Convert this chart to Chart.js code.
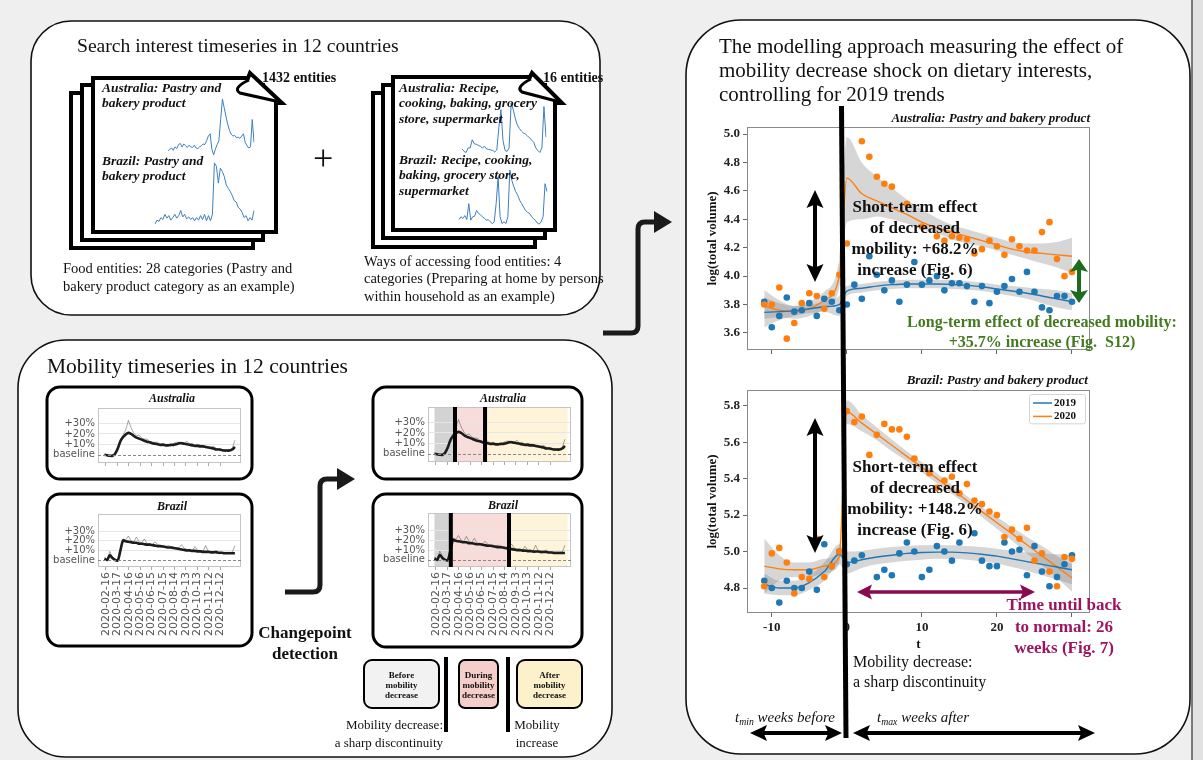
<!DOCTYPE html>
<html>
<head>
<meta charset="utf-8">
<title>Mobility decrease and dietary interests</title>
<script src="https://cdn.jsdelivr.net/npm/chart.js@4.4.1/dist/chart.umd.min.js"></script>
<style>
  html, body { margin: 0; padding: 0; }
  body { width: 1203px; height: 760px; position: relative; overflow: hidden; background: #efefef;
         font-family: "Liberation Serif", "Times New Roman", serif; color: #111; }
  svg { position: absolute; left: 0; top: 0; }
  canvas { position: absolute; }
  .txt { position: absolute; white-space: nowrap; }
  .b { font-weight: bold; }
  .i { font-style: italic; }
  .c { text-align: center; transform: translateX(-50%); }
  .r { text-align: right; transform: translateX(-100%); }
  sub { font-size: 65%; vertical-align: -3px; }
</style>
</head>
<body>
<svg id="back" width="1203" height="760">
  <rect x="1192" y="0" width="11" height="760" fill="#e2e2e2"/>
  <line x1="1192" y1="0" x2="1192" y2="760" stroke="#555" stroke-width="1.5"/>
  <g fill="#fff" stroke="#111" stroke-width="1.6">
    <rect x="31" y="21" width="569" height="294" rx="40"/>
    <rect x="18" y="340" width="594" height="417" rx="48"/>
    <rect x="686" y="20" width="504" height="734" rx="55"/>
  </g>
  <!-- stacked documents -->
  <g fill="#fff" stroke="#000" stroke-width="4">
    <rect x="71" y="93" width="182" height="155"/>
    <rect x="82" y="85" width="181" height="155"/>
    <path d="M93,78 H248 L250,73 L282,103 H276 V232 H93 Z"/>
    <path d="M249,80 Q232,88 240,93 L280,102" fill="none" stroke-width="3"/>
    <rect x="373" y="93" width="162" height="154"/>
    <rect x="383" y="85" width="162" height="153"/>
    <path d="M393,77 H530 L532,73 L562,103 H555 V230 H393 Z"/>
    <path d="M531,79 Q515,87 522,92 L560,102" fill="none" stroke-width="3"/>
  </g>
  <!-- mobility boxes -->
  <g fill="#fff" stroke="#000" stroke-width="3">
    <rect x="47" y="387" width="205" height="92" rx="13"/>
    <rect x="47" y="494" width="205" height="152" rx="13"/>
    <rect x="373" y="387" width="209" height="92" rx="13"/>
    <rect x="373" y="494" width="209" height="153" rx="13"/>
  </g>
  <g stroke="#000" stroke-width="2">
    <rect x="364" y="660" width="75" height="48" rx="8" fill="#f2f2f2"/>
    <rect x="459" y="660" width="39" height="48" rx="6" fill="#f5cdc9"/>
    <rect x="517" y="660" width="65" height="48" rx="8" fill="#fdf1cc"/>
  </g>
  <rect x="444" y="657" width="4" height="75" fill="#000"/>
  <rect x="506" y="657" width="4" height="75" fill="#000"/>
</svg>

<canvas id="ausFood" width="88" height="59" style="left:167px;top:98px"></canvas>
<canvas id="brazilFood" width="101" height="67" style="left:154px;top:160px"></canvas>
<canvas id="ausAccess" width="86" height="53" style="left:461px;top:102px"></canvas>
<canvas id="brazilAccess" width="90" height="59" style="left:458px;top:169px"></canvas>
<canvas id="ausMobLeft" width="195" height="65" style="left:50px;top:404px"></canvas>
<canvas id="brMobLeft" width="195" height="130" style="left:50px;top:510px"></canvas>
<canvas id="ausMobRight" width="195" height="65" style="left:380px;top:403px"></canvas>
<canvas id="brMobRight" width="195" height="131" style="left:380px;top:509px"></canvas>
<canvas id="ausEffect" width="402" height="250" style="left:698px;top:110px"></canvas>
<canvas id="brEffect" width="402" height="274" style="left:698px;top:380px"></canvas>

<svg id="front" width="1203" height="760">
  <line x1="841.5" y1="106" x2="846" y2="738" stroke="#000" stroke-width="5"/>
  <g fill="none" stroke="#1a1a1a" stroke-width="5">
    <path d="M603,333 H631 Q638,333 638,326 V229 Q638,222 645,222 H656"/>
    <path d="M285,592 H313 Q320,592 320,585 V486 Q320,479 327,479 H339"/>
  </g>
  <g fill="#1a1a1a">
    <polygon points="654,211 672,222 654,233"/>
    <polygon points="337,468 355,479 337,490"/>
  </g>
  <g id="arrows"></g>
</svg>
<div id="labels"></div>

<script>
// ---------- search interest (weekly, scaled 0-100) ----------
const ausFoodInterest = [9, 12, 14, 10, 16, 13, 20, 22, 16, 21, 18, 15, 19, 16, 15, 19, 14, 13, 16, 18,
  21, 20, 27, 35, 39, 12, 2, 12, 20, 27, 64, 100, 85, 70, 56, 45, 38, 35, 36, 32, 33, 31, 35, 39, 24, 18, 14, 16, 64, 24];
const brazilFoodInterest = [3, 9, 7, 13, 10, 18, 12, 16, 9, 13, 18, 12, 16, 24, 14, 18, 11, 14, 10, 13,
  8, 13, 9, 16, 10, 18, 8, 16, 8, 18, 97, 92, 66, 89, 84, 76, 63, 58, 53, 47, 39, 37, 29, 26, 21, 13, 16, 8, 13, 9, 24];
const ausAccessInterest = [10, 5, 3, 12, 12, 28, 20, 19, 17, 15, 12, 15, 10, 9, 8, 7, 4, 8, 53, 87,
  27, 7, 5, 12, 100, 87, 70, 57, 50, 45, 41, 39, 35, 32, 27, 23, 12, 7, 3, 12, 93, 33];
const brazilAccessInterest = [13, 18, 15, 20, 13, 41, 12, 18, 19, 29, 24, 21, 18, 15, 12, 13, 9, 6, 9, 41,
  88, 18, 6, 9, 6, 18, 100, 82, 71, 62, 56, 47, 41, 35, 29, 26, 24, 19, 15, 12, 7, 5, 9, 18, 76, 62];

// ---------- mobility (days since 2020-02-16, % above baseline) ----------
const mobilityDays = [-4, 3, 10, 17, 24, 31, 38, 45, 52, 59, 66, 73, 80, 87, 94, 101, 108, 115, 122, 129,
  136, 143, 150, 157, 164, 171, 178, 185, 192, 199, 206, 213, 220, 227, 234, 241, 248, 255, 262, 269,
  276, 283, 290, 297, 304, 311, 318, 325, 332, 339];
const ausMobility = [0, -0.5, -1, -1, 1, 6, 13, 17, 19.5, 21, 20, 18, 16.5, 15.5, 14.5, 13.5, 12.5, 12, 11, 10.5,
  10, 9.5, 9.5, 9, 9, 9.5, 9.5, 10, 11, 11, 10.5, 10, 9.5, 9, 8.5, 8.5, 8, 8, 7.5, 7,
  6.5, 6, 5, 5, 4.5, 4, 4, 4, 5, 7.5];
const ausMobilityRaw = [0.5, -1, -0.5, -1.5, 2, 7, 15, 19, 24, 33, 26, 21, 18, 19, 16, 15, 15, 13, 12, 12,
  12, 10, 11, 10, 10, 8, 11, 12, 12, 12, 11, 13, 10, 11, 9, 10, 9, 9, 8, 8,
  7, 8, 6, 6, 5, 5, 4.5, 5, 6, 14];
const brazilMobility = [1.5, 0, 5, 2, 0, -0.5, 10, 20.5, 19.5, 19, 18.5, 18, 18, 17, 17, 16.5, 16, 16, 15.5, 15,
  14.5, 14.5, 14, 13.5, 13, 13, 12.5, 12, 11.5, 11, 10.5, 10, 10, 9.5, 9.5, 9, 9, 8.5, 8.5, 8.5,
  8, 8, 8, 7.5, 7.5, 7, 7, 7, 7, 7];
const brazilMobilityRaw = [3, -0.5, 9, 3, 0.5, 0, 12, 22, 21, 25, 20, 19, 24, 19, 18, 22, 17, 17, 16, 19,
  16, 15, 15, 14, 15, 14, 13, 13, 13, 16, 12, 11, 11, 10, 14, 10, 10, 9, 15, 9,
  9, 9, 10, 8, 8, 8, 8, 8, 8, 15];
const mobilityTickDays = [0, 30, 60, 90, 120, 150, 180, 210, 240, 270, 300];
const mobilityTickLabels = ['2020-02-16', '2020-03-17', '2020-04-16', '2020-05-16', '2020-06-15', '2020-07-15',
  '2020-08-14', '2020-09-13', '2020-10-13', '2020-11-12', '2020-12-12'];
const mobilityYTicks = [0, 10, 20, 30];
const ausChangepoints = [50, 129];
const brazilChangepoints = [39, 192];
const phaseColors = ['#d3d3d3', '#f8dcda', '#fdf4da'];

// ---------- weekly search volume around the mobility drop ----------
const weeks = [-11, -10, -9, -8, -7, -6, -5, -4, -3, -2, -1, 0, 1, 2, 3, 4, 5, 6, 7, 8, 9,
  10, 11, 12, 13, 14, 15, 16, 17, 18, 19, 20, 21, 22, 23, 24, 25, 26, 27, 28, 29, 30];
const aus2019 = [3.82, 3.64, 3.72, 3.85, 3.75, 3.76, 3.81, 3.72, 3.84, 3.82, 3.76, 3.80, 3.94, 3.84, 4.14, 4.01, 3.90, 3.97, 3.82, 3.94, 4.10,
  3.94, 3.97, 4.00, 3.90, 3.95, 3.95, 3.93, 3.82, 3.93, 3.81, 3.89, 3.93, 3.98, 3.89, 4.03, 3.89, 3.78, 3.76, 3.86, 3.86, 3.82];
const aus2020 = [3.80, 3.80, 3.92, 3.56, 3.67, 3.81, 3.88, 3.86, 3.77, 3.88, 4.01, 4.23, null, 4.95, 4.84, 4.70, 4.65, 4.63, null, 4.51, null,
  4.35, null, 4.28, 4.25, 4.28, 4.27, 4.26, 4.16, 4.19, 4.25, 4.21, 4.15, 4.26, 4.21, 4.18, 4.18, 4.31, 4.38, 4.12, 4.00, 4.03];
const brazil2019 = [4.84, 4.80, 4.72, 4.84, 4.80, 4.80, 4.89, 4.79, 5.04, 4.92, 5.00, 4.93, 4.95, 4.98, null, 4.86, 4.90, 4.87, 4.99, 5.05, 5.00,
  4.86, 4.90, 5.03, 5.00, 4.95, 5.05, null, 5.10, 4.95, 4.92, 4.92, 5.05, 5.00, 5.01, 4.87, 5.03, 4.89, 4.81, 4.86, 4.93, 4.98];
const brazil2020 = [4.81, 4.99, 5.02, 4.94, 4.77, 4.86, 4.85, 5.07, 4.86, 4.92, 5.00, 5.77, 5.71, 5.74, 5.53, 5.64, 5.70, 5.67, 5.67, 5.63, 5.51,
  null, 5.43, 5.35, 5.39, 5.41, 5.32, 5.37, 5.28, 5.26, 5.22, 5.20, 5.08, 5.12, 5.07, 5.13, 4.95, 4.99, 4.89, 4.81, 4.97, 4.96];

// fitted trends and their confidence bands
const fitWeeks = [-11, -9, -7, -5, -3, -1, 0, 2, 4, 6, 8, 10, 12, 14, 16, 18, 20, 22, 24, 26, 28, 30];
const aus2019Fit = [3.745, 3.75, 3.757, 3.77, 3.785, 3.80, 3.895, 3.915, 3.93, 3.94, 3.945, 3.945, 3.945, 3.942, 3.935, 3.925, 3.91, 3.895, 3.88, 3.86, 3.84, 3.82];
const aus2019Lo = [3.64, 3.69, 3.72, 3.74, 3.75, 3.72, 3.86, 3.885, 3.90, 3.91, 3.915, 3.915, 3.915, 3.91, 3.905, 3.895, 3.88, 3.86, 3.84, 3.81, 3.78, 3.76];
const aus2019Hi = [3.85, 3.81, 3.79, 3.80, 3.82, 3.86, 3.93, 3.945, 3.96, 3.97, 3.975, 3.975, 3.975, 3.975, 3.965, 3.955, 3.94, 3.93, 3.92, 3.91, 3.90, 3.88];
const aus2020Fit = [3.79, 3.76, 3.75, 3.77, 3.83, 4.00, 4.69, 4.58, 4.53, 4.48, 4.435, 4.38, 4.34, 4.31, 4.28, 4.25, 4.22, 4.19, 4.17, 4.16, 4.15, 4.14];
const aus2020Lo = [3.70, 3.71, 3.70, 3.72, 3.77, 3.92, 4.38, 4.40, 4.42, 4.40, 4.37, 4.33, 4.30, 4.26, 4.23, 4.21, 4.18, 4.15, 4.12, 4.09, 4.06, 4.02];
const aus2020Hi = [3.90, 3.83, 3.79, 3.82, 3.89, 4.12, 4.98, 4.80, 4.70, 4.62, 4.54, 4.47, 4.41, 4.36, 4.33, 4.30, 4.27, 4.24, 4.23, 4.23, 4.24, 4.27];
const brazil2019Fit = [4.82, 4.80, 4.80, 4.83, 4.89, 4.985, 4.94, 4.955, 4.97, 4.98, 4.99, 4.995, 4.997, 4.997, 4.993, 4.985, 4.975, 4.96, 4.945, 4.93, 4.915, 4.90];
const brazil2019Lo = [4.77, 4.76, 4.76, 4.79, 4.84, 4.93, 4.88, 4.91, 4.93, 4.94, 4.95, 4.955, 4.96, 4.96, 4.955, 4.945, 4.935, 4.915, 4.895, 4.87, 4.845, 4.82];
const brazil2019Hi = [4.88, 4.84, 4.84, 4.87, 4.94, 5.04, 5.00, 5.005, 5.015, 5.025, 5.03, 5.035, 5.035, 5.035, 5.03, 5.025, 5.015, 5.005, 4.995, 4.99, 4.985, 4.98];
const brazil2020Fit = [4.92, 4.905, 4.90, 4.90, 4.92, 4.97, 5.765, 5.704, 5.644, 5.583, 5.522, 5.462, 5.401, 5.34, 5.28, 5.219, 5.158, 5.098, 5.037, 4.976, 4.916, 4.855];
const brazil2020Lo = [4.77, 4.84, 4.86, 4.86, 4.88, 4.93, 5.70, 5.66, 5.61, 5.55, 5.495, 5.435, 5.375, 5.315, 5.255, 5.19, 5.125, 5.06, 4.99, 4.925, 4.855, 4.78];
const brazil2020Hi = [5.07, 4.98, 4.94, 4.94, 4.96, 5.02, 5.83, 5.75, 5.68, 5.615, 5.55, 5.49, 5.43, 5.365, 5.305, 5.245, 5.19, 5.135, 5.08, 5.03, 4.975, 4.93];
const weekTicks = [-10, 0, 10, 20, 30];
const ausYTicks = [3.6, 3.8, 4.0, 4.2, 4.4, 4.6, 4.8, 5.0];
const brazilYTicks = [4.8, 5.0, 5.2, 5.4, 5.6, 5.8];

const BLUE = '#1f77b4', ORANGE = '#ff7f0e';

Chart.defaults.font.family = '"Liberation Serif", serif';
Chart.defaults.animation = false;
Chart.defaults.responsive = false;
Chart.defaults.devicePixelRatio = 1;
Chart.defaults.events = [];
Chart.defaults.plugins.legend.display = false;
Chart.defaults.plugins.tooltip.enabled = false;

// fixed axis sizes, no extra room reserved for edge labels
function fixWidth(w) {
  return s => { s.width = w; s.paddingTop = 0; s.paddingBottom = 0; };
}
function fixHeight(h) {
  return s => { s.height = h; s.paddingLeft = 0; s.paddingRight = 0; };
}

// thin box around the plotting area
const framePlugin = {
  id: 'frame',
  afterDatasetsDraw(chart, args, opts) {
    const {ctx, chartArea: a} = chart;
    ctx.save();
    ctx.strokeStyle = opts.color || '#888';
    ctx.lineWidth = 1;
    ctx.strokeRect(Math.round(a.left) + 0.5, Math.round(a.top) + 0.5,
      Math.round(a.right - a.left) - 1, Math.round(a.bottom - a.top) - 1);
    ctx.restore();
  }
};

// before / during / after shading, dashed baseline and changepoint bars
const phasePlugin = {
  id: 'phases',
  beforeDraw(chart, args, opts) {
    if (!opts.changepoints) return;
    const {ctx, chartArea: a, scales: {x}} = chart;
    const edges = [mobilityDays[0], ...opts.changepoints, mobilityDays[mobilityDays.length - 1] + 7];
    ctx.save();
    for (let i = 0; i < phaseColors.length; i++) {
      const x0 = x.getPixelForValue(edges[i]);
      const x1 = x.getPixelForValue(edges[i + 1]);
      ctx.fillStyle = phaseColors[i];
      ctx.fillRect(x0, a.top, x1 - x0, a.bottom - a.top);
    }
    ctx.restore();
  },
  afterDatasetsDraw(chart, args, opts) {
    const {ctx, chartArea: a, scales: {x, y}} = chart;
    ctx.save();
    const y0 = Math.round(y.getPixelForValue(0)) + 0.5;
    ctx.strokeStyle = '#888';
    ctx.lineWidth = 1;
    ctx.setLineDash([3, 2]);
    ctx.beginPath(); ctx.moveTo(a.left, y0); ctx.lineTo(a.right, y0); ctx.stroke();
    ctx.setLineDash([]);
    (opts.changepoints || []).forEach(d => {
      const px = x.getPixelForValue(d);
      ctx.fillStyle = '#000';
      ctx.fillRect(px - 2, a.top, 4, a.bottom - a.top);
    });
    ctx.restore();
  }
};

// small legend box in the top-right corner of the plot
const insideLegend = {
  id: 'insideLegend',
  afterDatasetsDraw(chart, args, opts) {
    if (!opts.display) return;
    const {ctx, chartArea: a} = chart;
    const entries = chart.data.datasets.filter(d => d.legend);
    const w = 56, rowH = 13.4, h = entries.length * rowH + 2.5;
    const x0 = a.right - 5 - w, y0 = a.top + 4;
    ctx.save();
    ctx.fillStyle = 'rgba(255,255,255,0.9)';
    ctx.strokeStyle = '#d4d4d4';
    ctx.lineWidth = 1;
    ctx.beginPath();
    ctx.roundRect(x0 + 0.5, y0 + 0.5, w, h, 2);
    ctx.fill(); ctx.stroke();
    ctx.font = 'bold 11px "Liberation Serif"';
    ctx.textBaseline = 'middle';
    entries.forEach((d, i) => {
      const yy = y0 + 9 + i * rowH;
      ctx.strokeStyle = d.borderColor;
      ctx.lineWidth = 1.5;
      ctx.beginPath(); ctx.moveTo(x0 + 4, yy); ctx.lineTo(x0 + 23, yy); ctx.stroke();
      ctx.fillStyle = '#111';
      ctx.fillText(d.label, x0 + 25, yy);
    });
    ctx.restore();
  }
};

function sparkline(id, values) {
  new Chart(document.getElementById(id), {
    type: 'line',
    data: {
      labels: values.map((v, i) => i),
      datasets: [{ data: values, borderColor: '#3f7fbf', borderWidth: 1, pointRadius: 0, tension: 0 }]
    },
    options: {
      layout: { padding: 1 },
      scales: { x: { display: false }, y: { display: false, min: 0, max: 100 } }
    }
  });
}

function mobilityChart(id, smooth, raw, range, showDates, changepoints) {
  const pts = arr => mobilityDays.map((d, i) => ({ x: d, y: arr[i] }));
  new Chart(document.getElementById(id), {
    type: 'line',
    data: {
      datasets: [
        { data: pts(smooth), borderColor: '#1c1c1c', borderWidth: 2.6, pointRadius: 0, tension: 0.3 },
        { data: pts(raw), borderColor: 'rgba(60,60,60,0.45)', borderWidth: 1, pointRadius: 0, tension: 0 }
      ]
    },
    options: {
      layout: { padding: { top: 4, right: 4, left: 0, bottom: 0 } },
      plugins: { frame: { color: '#c4c4c4' }, phases: { changepoints } },
      scales: {
        x: {
          type: 'linear', min: -21, max: 355,
          afterBuildTicks: s => { s.ticks = mobilityTickDays.map(v => ({ value: v })); },
          afterFit: fixHeight(showDates ? 73 : 6),
          border: { display: false },
          grid: { drawOnChartArea: false, tickLength: 3, color: '#aaa' },
          ticks: {
            display: showDates, autoSkip: false, minRotation: 90, maxRotation: 90, padding: 2, color: '#555',
            font: { family: '"DejaVu Sans", sans-serif', size: 11 },
            callback: (v, i) => mobilityTickLabels[i]
          }
        },
        y: {
          min: range[0], max: range[1],
          afterBuildTicks: s => { s.ticks = mobilityYTicks.map(v => ({ value: v })); },
          afterFit: fixWidth(48),
          border: { display: false },
          grid: { drawTicks: false, color: ctx => ctx.tick && ctx.tick.value === 0 ? 'rgba(0,0,0,0)' : '#e6e6e6' },
          ticks: {
            padding: 3, color: '#555',
            font: { family: '"DejaVu Sans", sans-serif', size: 10 },
            callback: v => v === 0 ? 'baseline' : '+' + v + '%'
          }
        }
      }
    },
    plugins: [framePlugin, phasePlugin]
  });
}

function effectChart(id, obs19, obs20, f19, lo19, hi19, f20, lo20, hi20, cfg) {
  const pts = arr => weeks.map((w, i) => ({ x: w, y: arr[i] }));
  const fit = arr => fitWeeks.map((w, i) => ({ x: w, y: arr[i] }));
  const band = 'rgba(128,128,128,0.32)';
  const curve = { pointRadius: 0, cubicInterpolationMode: 'monotone' };
  new Chart(document.getElementById(id), {
    type: 'line',
    data: {
      datasets: [
        { data: pts(obs20), showLine: false, pointRadius: 3.3, pointBorderWidth: 0, pointBackgroundColor: ORANGE },
        { data: pts(obs19), showLine: false, pointRadius: 3.3, pointBorderWidth: 0, pointBackgroundColor: BLUE },
        { label: '2019', legend: true, data: fit(f19), borderColor: BLUE, borderWidth: 1.4, ...curve },
        { label: '2020', legend: true, data: fit(f20), borderColor: ORANGE, borderWidth: 1.4, ...curve },
        { data: fit(lo19), borderWidth: 0, borderColor: 'rgba(0,0,0,0)', ...curve },
        { data: fit(hi19), borderWidth: 0, borderColor: 'rgba(0,0,0,0)', fill: '-1', backgroundColor: band, ...curve },
        { data: fit(lo20), borderWidth: 0, borderColor: 'rgba(0,0,0,0)', ...curve },
        { data: fit(hi20), borderWidth: 0, borderColor: 'rgba(0,0,0,0)', fill: '-1', backgroundColor: band, ...curve }
      ]
    },
    options: {
      layout: { padding: { top: cfg.padTop, right: 10, left: 0, bottom: 0 } },
      plugins: { frame: { color: '#8a8a8a' }, insideLegend: { display: cfg.legend } },
      scales: {
        x: {
          type: 'linear', min: -13.3, max: 32.4,
          afterBuildTicks: s => { s.ticks = weekTicks.map(v => ({ value: v })); },
          afterFit: fixHeight(cfg.xHeight),
          border: { display: false },
          grid: { drawOnChartArea: false, tickLength: 4, color: '#666' },
          ticks: {
            display: cfg.xLabels, padding: 3, color: '#222',
            font: { weight: 'bold', size: 13 },
            callback: v => v === 30 ? '' : v
          },
          title: { display: cfg.xLabels, text: 't', color: '#111', font: { weight: 'bold', size: 13 }, padding: { top: 0, bottom: 2 } }
        },
        y: {
          min: cfg.yRange[0], max: cfg.yRange[1],
          afterBuildTicks: s => { s.ticks = cfg.yTicks.map(v => ({ value: v })); },
          afterFit: fixWidth(49),
          border: { display: false },
          grid: { drawOnChartArea: false, tickLength: 4, color: '#666' },
          ticks: { padding: 3, color: '#222', font: { weight: 'bold', size: 13 }, callback: v => v.toFixed(1) },
          title: { display: true, text: 'log(total volume)', color: '#111', font: { weight: 'bold', size: 13 }, padding: { top: 7, bottom: 0 } }
        }
      }
    },
    plugins: [framePlugin, insideLegend]
  });
}

sparkline('ausFood', ausFoodInterest);
sparkline('brazilFood', brazilFoodInterest);
sparkline('ausAccess', ausAccessInterest);
sparkline('brazilAccess', brazilAccessInterest);

mobilityChart('ausMobLeft', ausMobility, ausMobilityRaw, [-8, 45], false, null);
mobilityChart('brMobLeft', brazilMobility, brazilMobilityRaw, [-7.3, 48], true, null);
mobilityChart('ausMobRight', ausMobility, ausMobilityRaw, [-8, 45], false, ausChangepoints);
mobilityChart('brMobRight', brazilMobility, brazilMobilityRaw, [-7.3, 48], true, brazilChangepoints);

effectChart('ausEffect', aus2019, aus2020, aus2019Fit, aus2019Lo, aus2019Hi, aus2020Fit, aus2020Lo, aus2020Hi,
  { padTop: 17, xHeight: 10, xLabels: false, legend: false, yRange: [3.48, 5.05], yTicks: ausYTicks });
effectChart('brEffect', brazil2019, brazil2020, brazil2019Fit, brazil2019Lo, brazil2019Hi, brazil2020Fit, brazil2020Lo, brazil2020Hi,
  { padTop: 10, xHeight: 41, xLabels: true, legend: true, yRange: [4.663, 5.886], yTicks: brazilYTicks });

// ---------- double-headed annotation arrows ----------
function doubleArrow(x1, y1, x2, y2, color, shaft, headLen, headHalf) {
  const len = Math.hypot(x2 - x1, y2 - y1);
  const ux = (x2 - x1) / len, uy = (y2 - y1) / len;
  const nx = -uy, ny = ux;
  const p = (d, o) => [x1 + ux * d + nx * o, y1 + uy * d + ny * o].map(v => v.toFixed(1)).join(',');
  const s = shaft / 2;
  const pts = [p(0, 0), p(headLen, headHalf), p(headLen * 0.85, s), p(len - headLen * 0.85, s),
    p(len - headLen, headHalf), p(len, 0), p(len - headLen, -headHalf), p(len - headLen * 0.85, -s),
    p(headLen * 0.85, -s), p(headLen, -headHalf)];
  return '<polygon fill="' + color + '" points="' + pts.join(' ') + '"/>';
}
document.getElementById('arrows').innerHTML = [
  doubleArrow(815, 190, 815, 282, '#000', 4, 18, 8.5),
  doubleArrow(815, 418, 815, 553, '#000', 4, 18, 8.5),
  doubleArrow(1079, 259, 1079, 303, '#1d6b1d', 4, 13, 9),
  doubleArrow(857, 592, 1035, 592, '#8a0a52', 3.5, 15, 7.5),
  doubleArrow(750, 733, 842, 733, '#000', 4, 17, 8),
  doubleArrow(853, 733, 1095, 733, '#000', 4, 17, 8)
].join('');

// ---------- text ----------
function txt(html, x, cy, size, cls, lh, color) {
  const el = document.createElement('div');
  lh = lh || size * 1.15;
  el.className = 'txt ' + (cls || '');
  el.innerHTML = html;
  el.style.fontSize = size + 'px';
  el.style.lineHeight = lh + 'px';
  el.style.left = x + 'px';
  el.style.top = (cy - lh / 2 - 0.05 * size) + 'px';
  if (color) el.style.color = color;
  document.getElementById('labels').appendChild(el);
}

txt('Search interest timeseries in 12 countries', 77, 47, 19.6);
txt('1432 entities', 262, 79, 14, 'b');
txt('Australia: Pastry and<br>bakery product', 102, 88, 13.5, 'b i', 15);
txt('Brazil: Pastry and<br>bakery product', 102, 161, 13.5, 'b i', 15);
txt('+', 313, 160, 36);
txt('Food entities: 28 categories (Pastry and<br>bakery product category as an example)', 63, 269, 14.5, '', 18);
txt('16 entities', 543, 79, 14, 'b');
txt('Australia: Recipe,<br>cooking, baking, grocery<br>store, supermarket', 399, 88, 13.5, 'b i', 15.5);
txt('Brazil: Recipe, cooking,<br>baking, grocery store,<br>supermarket', 399, 160, 13.5, 'b i', 15.5);
txt('Ways of accessing food entities: 4<br>categories (Preparing at home by persons<br>within household as an example)', 364, 262, 14.5, '', 17.5);

txt('Mobility timeseries in 12 countries', 47, 367, 21.5);
txt('Australia', 172, 399, 12, 'b i c');
txt('Brazil', 172, 507, 12, 'b i c');
txt('Australia', 503, 399, 12, 'b i c');
txt('Brazil', 503, 506, 12, 'b i c');
txt('Changepoint<br>detection', 305, 633, 17, 'b c', 21);
txt('Before<br>mobility<br>decrease', 401.5, 675, 9, 'b c', 10);
txt('During<br>mobility<br>decrease', 478.5, 675, 9, 'b c', 10);
txt('After<br>mobility<br>decrease', 549.5, 675, 9, 'b c', 10);
txt('Mobility decrease:<br>a sharp discontinuity', 443, 726, 13, 'r', 18);
txt('Mobility<br>increase', 537, 726, 13, 'c', 18);

txt('The modelling approach measuring the effect of<br>mobility decrease shock on dietary interests,<br>controlling for 2019 trends', 719, 47, 21, '', 24.3);
txt('Australia: Pastry and bakery product', 1090, 119, 13, 'b i r');
txt('Brazil: Pastry and bakery product', 1088, 381, 13, 'b i r');
txt('Short-term effect<br>of decreased<br>mobility: +68.2%<br>increase (Fig. 6)', 915, 207, 17, 'b c', 21.3);
txt('Short-term effect<br>of decreased<br>mobility: +148.2%<br>increase (Fig. 6)', 915, 467, 17, 'b c', 21);
txt('Long-term effect of decreased mobility:<br>+35.7% increase (Fig.&nbsp; S12)', 1042, 323, 16, 'b c', 20, '#437a1f');
txt('Time until back<br>to normal: 26<br>weeks (Fig. 7)', 1064, 606, 17, 'b c', 21.5, '#9c1560');
txt('Mobility decrease:<br>a sharp discontinuity', 853, 663, 16, '', 20);
txt('<i>t<sub>min</sub> weeks before</i>', 735, 718, 15);
txt('<i>t<sub>max</sub> weeks after</i>', 877, 718, 15);
</script>
</body>
</html>
